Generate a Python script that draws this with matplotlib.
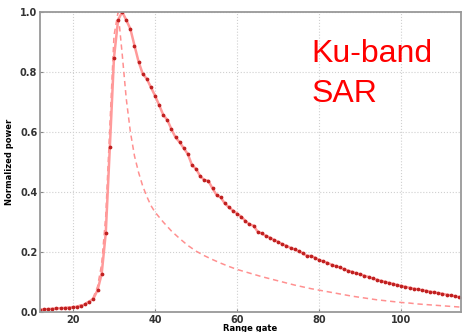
import numpy as np
import matplotlib
matplotlib.use('Agg')
import matplotlib.pyplot as plt

# measured waveform, one value per range gate (12..115)
gates = np.arange(12, 116)
power = [
    0.008, 0.009, 0.010, 0.011, 0.012, 0.013, 0.014, 0.015, 0.016, 0.018,  # 12-21
    0.021, 0.026, 0.035, 0.045, 0.073, 0.127, 0.263, 0.551, 0.847, 0.973,  # 22-31
    1.000, 0.973, 0.943, 0.888, 0.834, 0.794, 0.777, 0.749, 0.721, 0.690,  # 32-41
    0.657, 0.640, 0.609, 0.582, 0.566, 0.546, 0.526, 0.490, 0.477, 0.453,  # 42-51
    0.440, 0.437, 0.412, 0.390, 0.382, 0.362, 0.349, 0.338, 0.328, 0.318,  # 52-61
    0.304, 0.292, 0.288, 0.268, 0.262, 0.254, 0.248, 0.240, 0.234, 0.226,  # 62-71
    0.221, 0.214, 0.209, 0.203, 0.196, 0.187, 0.187, 0.181, 0.173, 0.169,  # 72-81
    0.164, 0.158, 0.153, 0.149, 0.143, 0.138, 0.134, 0.129, 0.126, 0.121,  # 82-91
    0.117, 0.112, 0.108, 0.104, 0.101, 0.097, 0.094, 0.090, 0.087, 0.084,  # 92-101
    0.081, 0.078, 0.076, 0.073, 0.071, 0.068, 0.066, 0.063, 0.061, 0.058,  # 102-111
    0.056, 0.053, 0.050, 0.048,                                            # 112-115
]

# model waveform (dashed)
model_gates = [12, 13, 14, 15, 16, 17, 18, 19, 20, 21, 22, 23, 24, 25, 26, 27, 28,
               29, 30, 31, 32, 33, 34, 35, 36, 37, 38, 39, 40, 42, 44, 46, 48, 50,
               52, 54, 56, 58, 60, 62, 64, 66, 68, 70, 72, 74, 76, 78, 80, 82, 84,
               86, 88, 90, 92, 94, 96, 98, 100, 102, 104, 106, 108, 110, 112, 115]
model_power = [0.008, 0.009, 0.010, 0.011, 0.012, 0.013, 0.015, 0.016, 0.018, 0.020,
               0.024, 0.029, 0.037, 0.050, 0.085, 0.160, 0.320, 0.620, 0.920, 1.000,
               0.860, 0.710, 0.600, 0.520, 0.465, 0.420, 0.385, 0.355, 0.333, 0.300,
               0.270, 0.245, 0.222, 0.203, 0.188, 0.175, 0.163, 0.152, 0.142, 0.134,
               0.126, 0.118, 0.111, 0.104, 0.097, 0.090, 0.084, 0.078, 0.073, 0.068,
               0.063, 0.058, 0.053, 0.049, 0.045, 0.041, 0.038, 0.035, 0.032, 0.030,
               0.027, 0.025, 0.023, 0.021, 0.019, 0.016]

xticks = [20, 40, 60, 80, 100]
yticks = [0.0, 0.2, 0.4, 0.6, 0.8, 1.0]

fig = plt.figure(figsize=(4.66, 3.32), dpi=100)
ax = fig.add_axes([0.086, 0.060, 0.903, 0.904])

ax.plot(model_gates, model_power, color='#ff9090', lw=1.1, dashes=(3.5, 2.5))
ax.plot(gates, power, '-', color='#ff9a9a', lw=1.8,
        marker='o', ms=1.7, mfc='#c02020', mec='#c02020')

ax.set_xlim(12, 114.5)
ax.set_ylim(0, 1.0)
ax.set_xticks(xticks)
ax.set_yticks(yticks)
ax.set_xticklabels([str(t) for t in xticks], fontsize=7, fontweight='bold', color='#333333')
ax.set_yticklabels(['%.1f' % t for t in yticks], fontsize=7, fontweight='bold', color='#333333')
ax.tick_params(direction='in', length=2, color='#888888', pad=2)
ax.grid(True, ls=':', color='#d0d0d0', lw=0.8)
for sp in ax.spines.values():
    sp.set_color('#999999')
    sp.set_linewidth(1.3)

ax.set_xlabel('Range gate', fontsize=6, fontweight='bold', labelpad=-0.5)
ax.set_ylabel('Normalized power', fontsize=6, fontweight='bold', labelpad=4)

fig.text(0.668, 0.812, 'Ku-band', color='#ff0000', fontsize=23, family='Liberation Sans')
fig.text(0.668, 0.694, 'SAR', color='#ff0000', fontsize=23, family='Liberation Sans')

fig.savefig('out.png', dpi=100)
